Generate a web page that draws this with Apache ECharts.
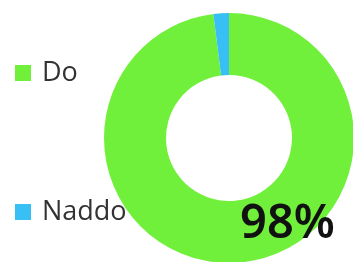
<!DOCTYPE html>
<html>
<head>
<meta charset="utf-8">
<script src="https://cdn.jsdelivr.net/npm/echarts@6/dist/echarts.min.js"></script>
<style>
html, body { margin: 0; padding: 0; background: #fff; }
#chart { width: 353px; height: 262px; }
</style>
</head>
<body>
<div id="chart"></div>
<script>
var categories = ['Do', 'Naddo'];
var values = [98, 2];
var colors = ['#70f03a', '#38c0f4'];
var centerLabel = '98%';

var chart = echarts.init(document.getElementById('chart'));
var option = {
    animation: false,
    color: colors,
    legend: {
        orient: 'vertical',
        left: 10,
        top: 53,
        itemWidth: 16,
        itemHeight: 16,
        itemGap: 109,
        icon: 'rect',
        textStyle: { fontFamily: 'Open Sans', fontSize: 27, color: '#333', lineHeight: 30, padding: [0, 0, 0, 6] },
        data: categories
    },
    graphic: [{
        type: 'text',
        left: 240,
        top: 201,
        z: 100,
        style: { text: centerLabel, font: '600 47px "Noto Sans"', fill: '#111' }
    }],
    series: [{
        name: 'share',
        type: 'pie',
        radius: [63, 125],
        center: [229, 138],
        startAngle: 90,
        label: { show: false },
        labelLine: { show: false },
        emphasis: { disabled: true },
        data: categories.map(function (c, i) { return { name: c, value: values[i] }; })
    }]
};
chart.setOption(option);
</script>
</body>
</html>
